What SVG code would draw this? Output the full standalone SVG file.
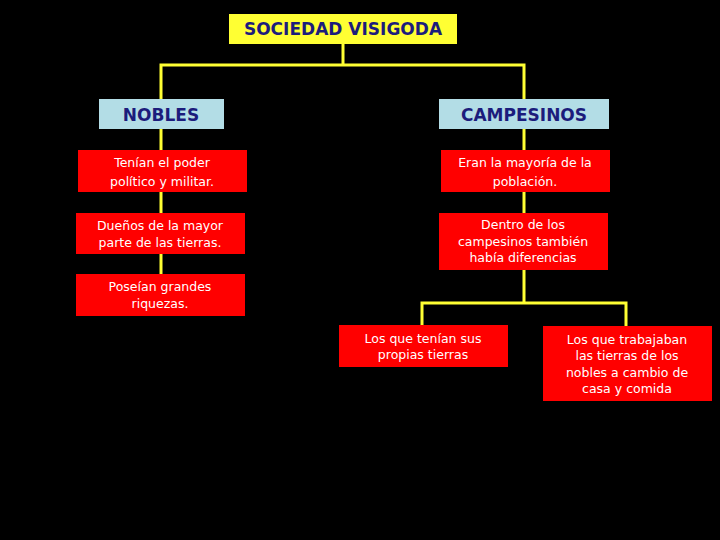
<svg xmlns="http://www.w3.org/2000/svg" width="720" height="540" viewBox="0 0 720 540">
<style>
.ln{stroke:#ffff33;stroke-width:3;fill:none}
.red{fill:#ff0000}
.blue{fill:#b3dde6}
.t{font-family:"DejaVu Sans","Liberation Sans",sans-serif;font-size:12.5px;fill:#ffffff;text-anchor:middle}
.h{font-family:"DejaVu Sans","Liberation Sans",sans-serif;font-size:17px;font-weight:bold;fill:#1c1c7c;text-anchor:middle}
</style>
<rect width="720" height="540" fill="#000000"/>
<g id="connectors">
<path class="ln" d="M343,44 V65 M161,99 V65 H524 V99"/>
<path class="ln" d="M161,129 V274"/>
<path class="ln" d="M524,129 V303"/>
<path class="ln" d="M422,325 V303 H626 V326"/>
</g>
<g id="title"><rect x="229" y="14" width="228" height="30" fill="#ffff33"/><text class="h" x="343" y="35">SOCIEDAD VISIGODA</text></g>
<g id="nobles"><rect class="blue" x="99" y="99" width="125" height="30"/><text class="h" x="161" y="121" font-weight="normal">NOBLES</text></g>
<g id="campesinos"><rect class="blue" x="439" y="99" width="170" height="30"/><text class="h" x="524" y="121" font-weight="normal">CAMPESINOS</text></g>
<g id="n1"><rect class="red" x="78" y="150" width="169" height="42"/><text class="t" x="162" y="167">Tenían el poder</text><text class="t" x="162" y="186">político y militar.</text></g>
<g id="n2"><rect class="red" x="76" y="213" width="169" height="41"/><text class="t" x="160" y="230">Dueños de la mayor</text><text class="t" x="160" y="247">parte de las tierras.</text></g>
<g id="n3"><rect class="red" x="76" y="274" width="169" height="42"/><text class="t" x="160" y="291">Poseían grandes</text><text class="t" x="160" y="308">riquezas.</text></g>
<g id="c1"><rect class="red" x="441" y="150" width="169" height="42"/><text class="t" x="525" y="167">Eran la mayoría de la</text><text class="t" x="525" y="186">población.</text></g>
<g id="c2"><rect class="red" x="439" y="213" width="169" height="57"/><text class="t" x="523" y="229">Dentro de los</text><text class="t" x="523" y="246">campesinos también</text><text class="t" x="523" y="262">había diferencias</text></g>
<g id="c3"><rect class="red" x="339" y="325" width="169" height="42"/><text class="t" x="423" y="343">Los que tenían sus</text><text class="t" x="423" y="359">propias tierras</text></g>
<g id="c4"><rect class="red" x="543" y="326" width="169" height="75"/><text class="t" x="627" y="344">Los que trabajaban</text><text class="t" x="627" y="360">las tierras de los</text><text class="t" x="627" y="377">nobles a cambio de</text><text class="t" x="627" y="393">casa y comida</text></g>
</svg>
